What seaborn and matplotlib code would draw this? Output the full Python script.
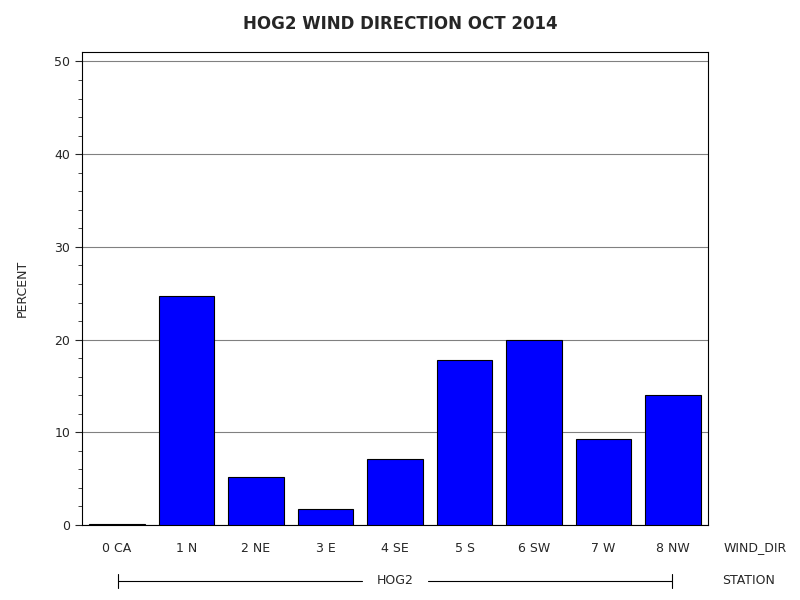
import matplotlib
matplotlib.use("Agg")
import matplotlib.pyplot as plt
import seaborn as sns
import pandas as pd
from matplotlib.ticker import MultipleLocator

directions = ["0 CA", "1 N", "2 NE", "3 E", "4 SE", "5 S", "6 SW", "7 W", "8 NW"]
percent = [0.1, 24.7, 5.2, 1.7, 7.1, 17.8, 20.0, 9.3, 14.0]
station = "HOG2"

df = pd.DataFrame({"WIND_DIR": directions, "PERCENT": percent})

sns.set_style("white")
plt.rcParams["font.family"] = ["DejaVu Sans"]

fig = plt.figure(figsize=(8, 6), dpi=100)
ax = fig.add_axes([0.1025, 0.125, 0.7825, 0.788])
sns.barplot(data=df, x="WIND_DIR", y="PERCENT", color="#0000ff", saturation=1,
            edgecolor="black", linewidth=0.8, width=0.8, ax=ax, zorder=3)

ax.set_ylim(0, 51)
ax.set_xlim(-0.5, 8.5)
ax.yaxis.set_major_locator(MultipleLocator(10))
ax.yaxis.set_minor_locator(MultipleLocator(2))
ax.tick_params(axis="y", which="major", length=5, labelsize=9, left=True)
ax.tick_params(axis="y", which="minor", length=3, left=True)
ax.tick_params(axis="x", length=0, labelsize=9, pad=12)
ax.grid(axis="y", which="major", color="#808080", linewidth=0.8, zorder=0)
for s in ax.spines.values():
    s.set_color("black")
    s.set_linewidth(0.8)

ax.set_xlabel("")
ax.set_ylabel("PERCENT", fontsize=9, labelpad=18)
fig.suptitle("HOG2 WIND DIRECTION OCT 2014", y=0.975, fontsize=12, fontweight="bold")

fig.text(0.905, 548 / 600 * -1 + 1, "WIND_DIR", fontsize=9, va="center")
fig.text(0.9025, 1 - 581 / 600, "STATION", fontsize=9, va="center")

# station bracket
yb = 1 - 581 / 600
fig.add_artist(plt.Line2D([118 / 800, 362 / 800], [yb, yb], color="black", lw=0.8))
fig.add_artist(plt.Line2D([428 / 800, 672 / 800], [yb, yb], color="black", lw=0.8))
for xp in (118, 672):
    fig.add_artist(plt.Line2D([xp / 800, xp / 800], [yb - 0.012, yb + 0.012], color="black", lw=0.8))
fig.text(395 / 800, yb, station, fontsize=9, ha="center", va="center")

fig.savefig("out.png", dpi=100)
